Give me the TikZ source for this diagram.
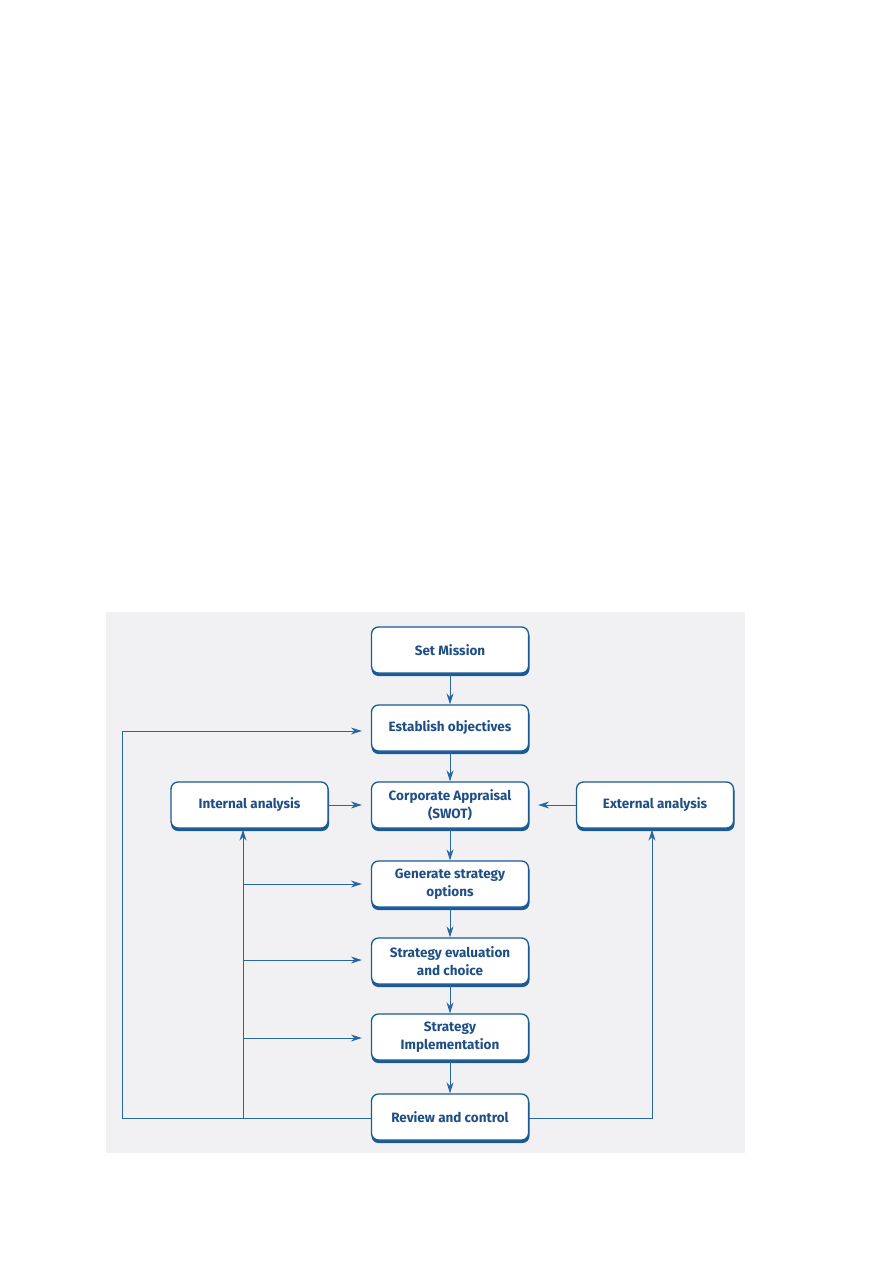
\documentclass[tikz,border=0pt]{standalone}
\usepackage{fontspec}
\setmainfont{Fira Sans}
\usetikzlibrary{arrows.meta,calc}
\definecolor{bg}{HTML}{F1F1F3}
\definecolor{bblue}{HTML}{1A5A96}
\definecolor{tblue}{HTML}{1F4E85}
\definecolor{ablue}{HTML}{2A67A0}
\begin{document}
\begin{tikzpicture}[x=1pt,y=-1pt,
  box/.style={draw=bblue, line width=1.3pt, fill=white, rounded corners=7pt,
    minimum width=157pt, minimum height=46pt, inner sep=2pt, align=center,
    font=\fontsize{13.5}{17.5}\selectfont\bfseries, text=tblue},
  conn/.style={draw=ablue, line width=1pt},
  arr/.style={conn, -{Stealth[length=11pt,width=7pt]}},
]
\useasboundingbox (0,0) rectangle (893,1263);
\fill[bg] (106,612) rectangle (745,1153);
\foreach \n/\x/\y in {m/450/650, e/450/728, c/450/805, g/450/884, s/450/961, i/450/1037, r/450/1117, ia/249.5/805, ea/655/805}{
  \fill[bblue, rounded corners=7pt] (\x-78.5,\y-21) rectangle (\x+79.5,\y+26);
}
\node[box] (m) at (450,650) {Set Mission};
\node[box] (e) at (450,728) {Establish objectives};
\node[box] (c) at (450,805) {Corporate Appraisal\\(SWOT)};
\node[box] (g) at (450,884) {Generate strategy\\options};
\node[box] (s) at (450,961) {Strategy evaluation\\and choice};
\node[box] (i) at (450,1037) {Strategy\\Implementation};
\node[box] (r) at (450,1117) {Review and control};
\node[box] (ia) at (249.5,805) {Internal analysis};
\node[box] (ea) at (655,805) {External analysis};
% vertical chain
\draw[arr] (m.south) -- (e.north);
\draw[arr] (e.south) -- (c.north);
\draw[arr] (c.south) -- (g.north);
\draw[arr] (g.south) -- (s.north);
\draw[arr] (s.south) -- (i.north);
\draw[arr] (i.south) -- (r.north);
% side inputs
\draw[arr, shorten >=9pt] (ia.east) -- (c.west);
\draw[arr, shorten >=9pt] (ea.west) -- (c.east);
% feedback
\coordinate (jb) at (243,1118);
\coordinate (jl) at (122,1118);
\coordinate (jr) at (652,1118);
\draw[conn] (r.west |- jb) -- (jl);
\draw[arr, shorten >=9pt] (jl) |- ($(e.west)+(0,3)$);
\draw[arr, shorten >=1pt] (jb) -- (jb |- ia.south);
\draw[arr, shorten >=1pt] (r.east |- jr) -| (ea.south -| jr);
\coordinate (j1) at (243,884);
\coordinate (j2) at (243,960);
\coordinate (j3) at (243,1038);
\draw[arr, shorten >=9pt] (j1) -- (g.west |- j1);
\draw[arr, shorten >=9pt] (j2) -- (s.west |- j2);
\draw[arr, shorten >=9pt] (j3) -- (i.west |- j3);
\end{tikzpicture}
\end{document}
